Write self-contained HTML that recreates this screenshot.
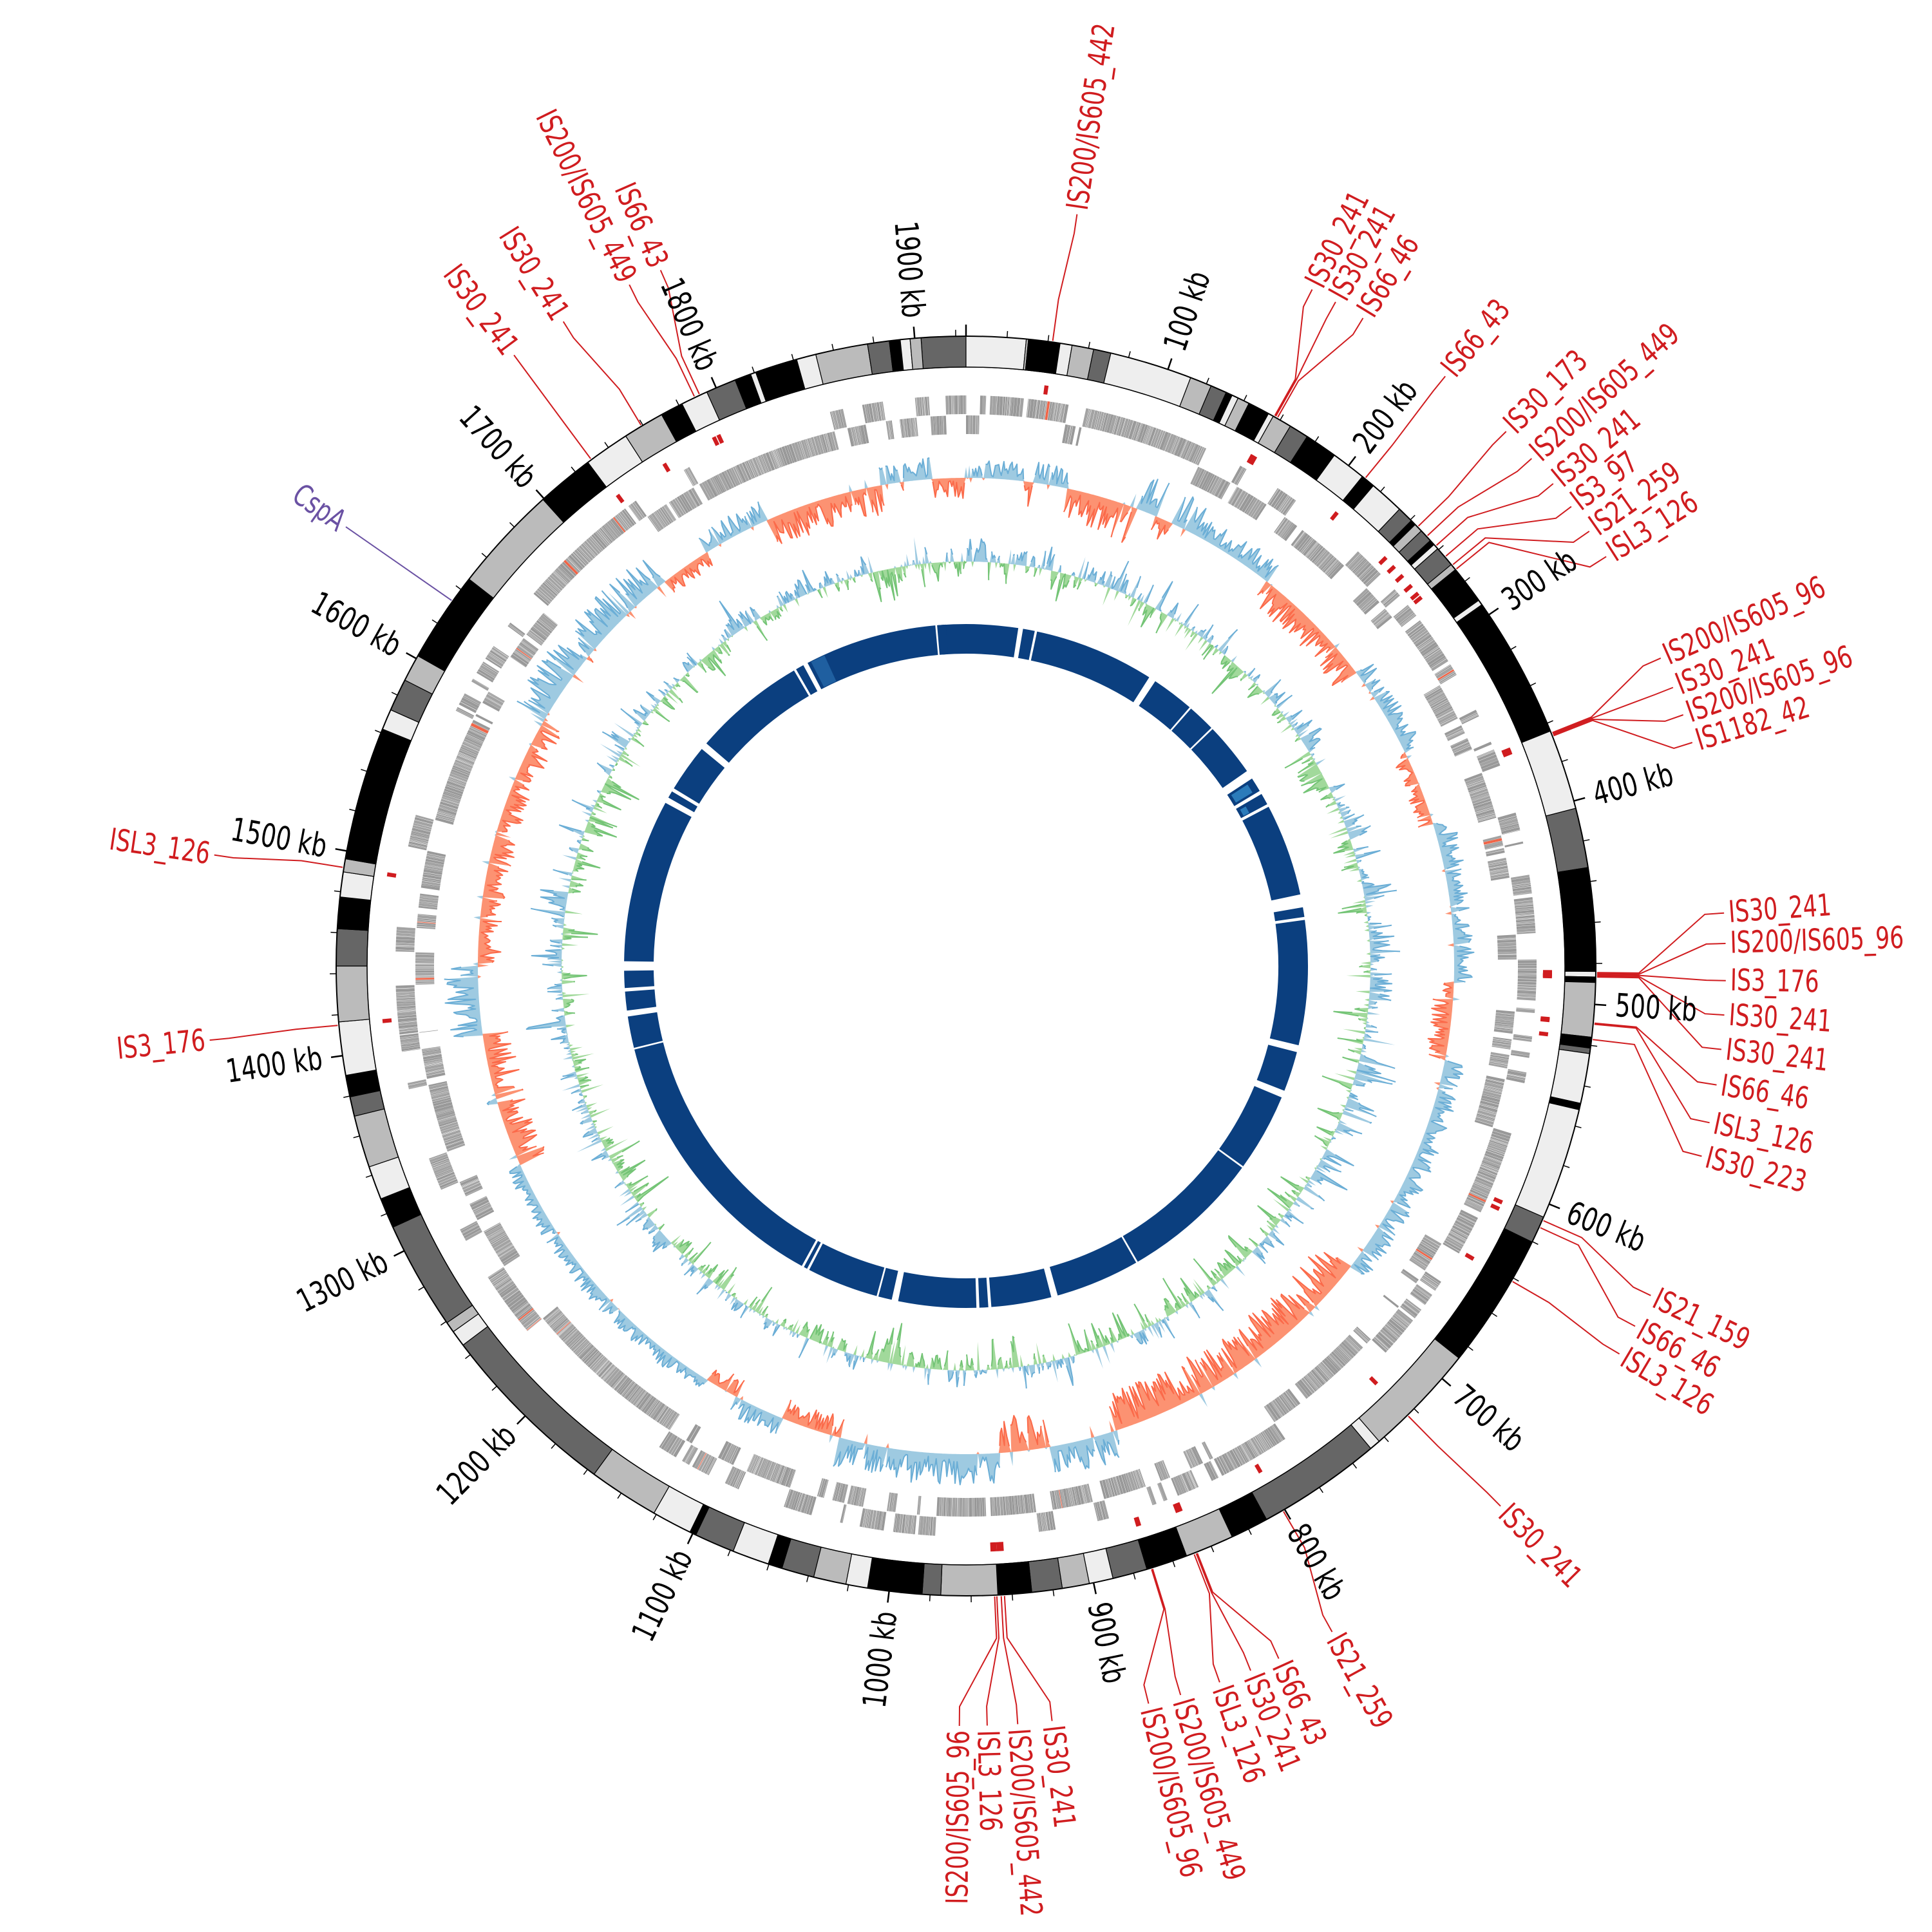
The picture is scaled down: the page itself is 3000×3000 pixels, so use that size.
<!DOCTYPE html>
<html><head><meta charset="utf-8"><style>
html,body{margin:0;padding:0;background:#fff}
svg{display:block}
.l{font-family:"Liberation Sans Narrow","DejaVu Sans Condensed","Liberation Sans",sans-serif;font-size:47px;fill:#d01c1f}
.t{font-family:"Liberation Sans Narrow","DejaVu Sans Condensed","Liberation Sans",sans-serif;font-size:50px;fill:#000}
.p{fill:#6a51a3}
</style></head><body>
<svg id="s" width="3000" height="3000" viewBox="0 0 3000 3000" xmlns="http://www.w3.org/2000/svg">
<g id="g"></g>
<g id="txt">
<text class="t" transform="translate(1500 1500) rotate(-71.3)" x="1010" y="16">100 kb</text>
<text class="t" transform="translate(1500 1500) rotate(-52.6)" x="1010" y="16">200 kb</text>
<text class="t" transform="translate(1500 1500) rotate(-33.9)" x="1010" y="16">300 kb</text>
<text class="t" transform="translate(1500 1500) rotate(-15.19)" x="1010" y="16">400 kb</text>
<text class="t" transform="translate(1500 1500) rotate(3.51)" x="1010" y="16">500 kb</text>
<text class="t" transform="translate(1500 1500) rotate(22.21)" x="1010" y="16">600 kb</text>
<text class="t" transform="translate(1500 1500) rotate(40.91)" x="1010" y="16">700 kb</text>
<text class="t" transform="translate(1500 1500) rotate(59.61)" x="1010" y="16">800 kb</text>
<text class="t" transform="translate(1500 1500) rotate(78.31)" x="1010" y="16">900 kb</text>
<text class="t" transform="translate(1500 1500) rotate(277.01)" x="-1010" y="16" text-anchor="end">1000 kb</text>
<text class="t" transform="translate(1500 1500) rotate(295.71)" x="-1010" y="16" text-anchor="end">1100 kb</text>
<text class="t" transform="translate(1500 1500) rotate(314.42)" x="-1010" y="16" text-anchor="end">1200 kb</text>
<text class="t" transform="translate(1500 1500) rotate(333.12)" x="-1010" y="16" text-anchor="end">1300 kb</text>
<text class="t" transform="translate(1500 1500) rotate(351.82)" x="-1010" y="16" text-anchor="end">1400 kb</text>
<text class="t" transform="translate(1500 1500) rotate(370.52)" x="-1010" y="16" text-anchor="end">1500 kb</text>
<text class="t" transform="translate(1500 1500) rotate(389.22)" x="-1010" y="16" text-anchor="end">1600 kb</text>
<text class="t" transform="translate(1500 1500) rotate(407.92)" x="-1010" y="16" text-anchor="end">1700 kb</text>
<text class="t" transform="translate(1500 1500) rotate(426.62)" x="-1010" y="16" text-anchor="end">1800 kb</text>
<text class="t" transform="translate(1500 1500) rotate(445.32)" x="-1010" y="16" text-anchor="end">1900 kb</text>

<text class="l" transform="translate(1500 1500) rotate(-81.6)" x="1187" y="15">IS200/IS605_442</text>
<text class="l" transform="translate(1500 1500) rotate(-62.9)" x="1187" y="15">IS30_241</text>
<text class="l" transform="translate(1500 1500) rotate(-60.9)" x="1187" y="15">IS30_241</text>
<text class="l" transform="translate(1500 1500) rotate(-58.5)" x="1187" y="15">IS66_46</text>
<text class="l" transform="translate(1500 1500) rotate(-50.9)" x="1187" y="15">IS66_43</text>
<text class="l" transform="translate(1500 1500) rotate(-44.7)" x="1187" y="15">IS30_173</text>
<text class="l" transform="translate(1500 1500) rotate(-41.9)" x="1187" y="15">IS200/IS605_449</text>
<text class="l" transform="translate(1500 1500) rotate(-39.4)" x="1187" y="15">IS30_241</text>
<text class="l" transform="translate(1500 1500) rotate(-37.2)" x="1187" y="15">IS3_97</text>
<text class="l" transform="translate(1500 1500) rotate(-34.9)" x="1187" y="15">IS21_259</text>
<text class="l" transform="translate(1500 1500) rotate(-32.6)" x="1187" y="15">ISL3_126</text>
<text class="l" transform="translate(1500 1500) rotate(-23.9)" x="1187" y="15">IS200/IS605_96</text>
<text class="l" transform="translate(1500 1500) rotate(-21.5)" x="1187" y="15">IS30_241</text>
<text class="l" transform="translate(1500 1500) rotate(-19.3)" x="1187" y="15">IS200/IS605_96</text>
<text class="l" transform="translate(1500 1500) rotate(-17.1)" x="1187" y="15">IS1182_42</text>
<text class="l" transform="translate(1500 1500) rotate(-4)" x="1187" y="15">IS30_241</text>
<text class="l" transform="translate(1500 1500) rotate(-1.7)" x="1187" y="15">IS200/IS605_96</text>
<text class="l" transform="translate(1500 1500) rotate(1.1)" x="1187" y="15">IS3_176</text>
<text class="l" transform="translate(1500 1500) rotate(3.7)" x="1187" y="15">IS30_241</text>
<text class="l" transform="translate(1500 1500) rotate(6.3)" x="1187" y="15">IS30_241</text>
<text class="l" transform="translate(1500 1500) rotate(9)" x="1187" y="15">IS66_46</text>
<text class="l" transform="translate(1500 1500) rotate(11.9)" x="1187" y="15">ISL3_126</text>
<text class="l" transform="translate(1500 1500) rotate(14.5)" x="1187" y="15">IS30_223</text>
<text class="l" transform="translate(1500 1500) rotate(25.7)" x="1187" y="15">IS21_159</text>
<text class="l" transform="translate(1500 1500) rotate(28.3)" x="1187" y="15">IS66_46</text>
<text class="l" transform="translate(1500 1500) rotate(30.7)" x="1187" y="15">ISL3_126</text>
<text class="l" transform="translate(1500 1500) rotate(45.3)" x="1187" y="15">IS30_241</text>
<text class="l" transform="translate(1500 1500) rotate(61.2)" x="1187" y="15">IS21_259</text>
<text class="l" transform="translate(1500 1500) rotate(65.7)" x="1187" y="15">IS66_43</text>
<text class="l" transform="translate(1500 1500) rotate(68)" x="1187" y="15">IS30_241</text>
<text class="l" transform="translate(1500 1500) rotate(70.5)" x="1187" y="15">ISL3_126</text>
<text class="l" transform="translate(1500 1500) rotate(73.6)" x="1187" y="15">IS200/IS605_449</text>
<text class="l" transform="translate(1500 1500) rotate(76.1)" x="1187" y="15">IS200/IS605_96</text>
<text class="l" transform="translate(1500 1500) rotate(83.5)" x="1187" y="15">IS30_241</text>
<text class="l" transform="translate(1500 1500) rotate(86.1)" x="1187" y="15">IS200/IS605_442</text>
<text class="l" transform="translate(1500 1500) rotate(88.4)" x="1187" y="15">ISL3_126</text>
<text class="l" transform="translate(1500 1500) rotate(270.5)" x="-1187" y="15" text-anchor="end">IS200/IS605_96</text>
<text class="l" transform="translate(1500 1500) rotate(354.4)" x="-1187" y="15" text-anchor="end">IS3_176</text>
<text class="l" transform="translate(1500 1500) rotate(368.4)" x="-1187" y="15" text-anchor="end">ISL3_126</text>
<text class="l p" transform="translate(1500 1500) rotate(395.3)" x="-1187" y="15" text-anchor="end">CspA</text>
<text class="l" transform="translate(1500 1500) rotate(413.5)" x="-1187" y="15" text-anchor="end">IS30_241</text>
<text class="l" transform="translate(1500 1500) rotate(418)" x="-1187" y="15" text-anchor="end">IS30_241</text>
<text class="l" transform="translate(1500 1500) rotate(423.7)" x="-1187" y="15" text-anchor="end">IS200/IS605_449</text>
<text class="l" transform="translate(1500 1500) rotate(426.3)" x="-1187" y="15" text-anchor="end">IS66_43</text>
</g>
</svg>
<script>
(function(){
// condense labels along reading direction
var SX=0.82;
Array.prototype.forEach.call(document.querySelectorAll('#txt text'),function(t){
var x=parseFloat(t.getAttribute('x'));t.setAttribute('x',(x/SX).toFixed(1));
t.setAttribute('transform',t.getAttribute('transform')+' scale('+SX+' 1)');});
function rng(seed){return function(){seed|=0;seed=seed+0x6D2B79F5|0;var t=Math.imul(seed^seed>>>15,1|seed);t=t+Math.imul(t^t>>>7,61|t)^t;return((t^t>>>14)>>>0)/4294967296;}}
var R=rng(12345);
function P(r,a){a=a*Math.PI/180;return (1500+r*Math.sin(a)).toFixed(1)+','+(1500-r*Math.cos(a)).toFixed(1);}
function sec(r1,r2,a1,a2,f,ex){var lg=(a2-a1)>180?1:0;return '<path d="M'+P(r2,a1)+'A'+r2+','+r2+' 0 '+lg+' 1 '+P(r2,a2)+'L'+P(r1,a2)+'A'+r1+','+r1+' 0 '+lg+' 0 '+P(r1,a1)+'Z" fill="'+f+'" '+(ex||'')+'/>';}
var h='';
var K='#000',D='#666',B='#bbb',E='#eee';
var bands=[[-4.1,0,D],[0,5.5,E],[5.5,5.7,B],[5.7,8.6,K],[8.6,9.7,E],[9.7,11.7,B],[11.7,13.3,D],[13.3,20.9,E],[20.9,22.9,B],[22.9,24.4,D],[24.4,25,K],[25,25.6,E],[25.6,26.7,B],[26.7,28.7,K],[28.7,29.2,E],[29.2,31,B],[31,32.8,D],[32.8,35.8,K],[35.8,39,E],[39,40.3,K],[40.3,43.5,E],[43.5,45,D],[45,45.5,K],[45.5,46.3,B],[46.3,47.5,D],[47.5,48,K],[48,48.5,E],[48.5,50.4,D],[50.4,51,B],[51,54.5,K],[54.5,55,E],[55,68.1,K],[68.1,75.5,E],[75.5,81,D],[81,90.5,K],[90.5,91,E],[91,91.5,K],[91.5,96.5,B],[96.5,97.5,K],[97.5,98,D],[98,102.6,E],[102.6,103.2,K],[103.2,113.5,E],[113.5,116,D],[116,128.5,K],[128.5,139,B],[139,140,E],[140,151.5,D],[151.5,155,K],[155,159.5,B],[159.5,163.3,K],[163.3,166.5,D],[166.5,168.7,E],[168.7,171.2,B],[171.2,174,D],[174,177.1,K],[177.1,182.3,B],[182.3,184,D],[184,189,K],[189,191,E],[191,194,B],[194,197,D],[197,198.3,K],[198.3,201.7,E],[201.7,205.4,D],[205.4,206,K],[206,209.7,E],[209.7,216.2,B],[216.2,233,D],[233,234.5,E],[234.5,235.5,B],[235.5,245.5,D],[245.5,248.3,K],[248.3,251.4,E],[251.4,256.2,B],[256.2,258,D],[258,260,K],[260,264.9,E],[264.9,270,B],[270,273.4,D],[273.4,276.3,K],[276.3,278.6,E],[278.6,279.8,B],[279.8,292.1,K],[292.1,294,E],[294,297,D],[297,299.5,B],[299.5,307.9,K],[307.9,317.8,B],[317.8,323.1,K],[323.1,327.3,E],[327.3,331.1,B],[331.1,333.2,K],[333.2,335.7,E],[335.7,338.5,D],[338.5,340,K],[340,340.5,E],[340.5,344.4,K],[344.4,346.2,E],[346.2,351,B],[351,353,D],[353,354,K],[354,354.9,E],[354.9,355.9,B]];
bands.forEach(function(b){h+=sec(930,978,b[0],b[1],b[2],'stroke="#000" stroke-width="1.2"');});
h+='<circle cx="1500" cy="1500" r="978" fill="none" stroke="#000" stroke-width="2"/><circle cx="1500" cy="1500" r="930" fill="none" stroke="#000" stroke-width="1.5"/>';
for(var kb=0;kb<1925;kb+=20){var a=kb*360/1925;var maj=kb%100==0;var p1=P(978,a).split(','),p2=P(maj?996:988,a).split(',');h+='<line x1="'+p1[0]+'" y1="'+p1[1]+'" x2="'+p2[0]+'" y2="'+p2[1]+'" stroke="#000" stroke-width="'+(maj?2.5:1.5)+'"/>';}
var a=0,row=0;
while(a<360){var len=0.04+R()*0.28;if(R()<0.06)row=1-row;var r1=row?857:826,r2=row?886:855;var col=R()<0.01?'#ef6548':(R()<0.5?'#a3a3a3':'#999');h+=sec(r1,r2,a,a+len,col);a+=len+0.012+R()*0.025;if(R()<0.02)a+=0.3+R()*0.6;}
var reg=[[0,7,1],[7,8,-1],[8,12,1],[12,20.5,-1],[20.5,23,1],[23,25,-1],[25,28,1],[28,38,1],[38,53,-1],[53,64,1],[64,73,-1],[73,92,1],[92,101,-1],[101,128,1],[128,162,-1],[162,170,1],[170,176,-1],[176,195,1],[195,202,-1],[202,208,1],[208,212,-1],[212,246,1],[246,262,-1],[262,270,1],[270,300,-1],[300,322,1],[322,328,-1],[328,336,1],[336,350,-1],[350,356,1],[356,360,-1]];
reg.forEach(function(r){r.push(0.35+R()*0.65);});
function area(base,vals,sgn,fill,stroke){var N=vals.length,pts=[],bl=[];for(var i=0;i<=N;i++){var ang=i*360/N;var v=vals[i%N];v=sgn>0?Math.max(v,0):Math.min(v,0);pts.push(P(base+v,ang));bl.push(P(base,ang));}bl.reverse();
var s='<path d="M'+pts.join('L')+'L'+bl.join('L')+'Z" fill="'+fill+'" stroke="none"/>';
var seg=[];for(var i=0;i<=N;i++){var v=vals[i%N];var on=sgn>0?v>0:v<0;var ang=i*360/N;if(on){seg.push(P(base+v,ang));}else{if(seg.length>1)s+='<polyline points="'+seg.join(' ')+'" fill="none" stroke="'+stroke+'" stroke-width="2" stroke-linejoin="round"/>';seg=[];}}
if(seg.length>1)s+='<polyline points="'+seg.join(' ')+'" fill="none" stroke="'+stroke+'" stroke-width="2"/>';
return s;}
var N=1925,sk=[];
for(var i=0;i<N;i++){var ang=i*360/N,s=1,am=0.6;for(var j=0;j<reg.length;j++){if(ang>=reg[j][0]&&ang<reg[j][1]){s=reg[j][2];am=reg[j][3];break;}}
var v=s*am*(0.1+0.9*Math.pow(R(),1.2))*62;if(R()<0.04)v=-v*0.4;sk.push(v);}
h+=area(758,sk,1,'#9ecae1','#6baed6');h+=area(758,sk,-1,'#fc9272','#fb6a4a');
var gc=[],w=0;
for(var i=0;i<N;i++){w=0.9*w+0.1*(R()*2-1);var v=w*70+(R()*2-1)*(R()<0.25?45:15);v=Math.max(-70,Math.min(70,v));gc.push(v);}
h+=area(628,gc,1,'#9ecae1','#6baed6');h+=area(628,gc,-1,'#a1d99b','#74c476');
var gaps=[[-4.5,0.4],[9.2,0.8],[11.8,0.4],[33,1.2],[41,0.3],[46,0.3],[56,1.5],[59.5,0.6],[62,0.5],[79,2.2],[82,0.5],[104,1.2],[112,1.2],[126,0.3],[150,0.3],[165,1.1],[176,0.5],[178,0.5],[192,1.1],[195,0.3],[207.5,0.4],[208.5,0.4],[256,0.3],[262,1],[266,0.6],[270,1.6],[299,1],[301,0.6],[310,1.2],[330,0.4],[332,0.8],[355,0.3],[356.5,0.3]];
var st=-4.5+0.2;
for(var g=1;g<gaps.length;g++){var e=gaps[g][0]-gaps[g][1]/2;h+=sec(485,531,st,e,'#0b3f7f');st=gaps[g][0]+gaps[g][1]/2;}
h+=sec(485,531,st,355.31,'#0b3f7f');
h+=sec(490,520,57.2,58.8,'#2b7bba');h+=sec(490,500,60.3,61.6,'#2b7bba');h+=sec(486,530,333,335.5,'#1f5fa0');
var L=[[7.9,8.4],[29.3,27.1],[29.4,29.1],[29.6,31.5],[39.3,39.1],[45.8,45.3],[47,48.1],[48.2,50.6],[49.5,52.8],[50.5,55.1],[51,57.4],[68.3,66.1],[68.4,68.5],[68.5,70.7],[68.6,72.9],[90.6,86],[90.7,88.3],[90.8,91.1],[90.9,93.7],[91,96.3],[95.2,99],[95.3,101.9],[96.7,104.5],[113.8,115.7],[114.5,118.3],[120,120.7],[135.5,135.3],[149.8,151.2],[158.5,155.7],[158.6,158],[158.8,160.5],[162.8,163.6],[162.9,166.1],[176.5,173.5],[176.8,176.1],[177.2,178.4],[177.4,180.5],[264.6,264.4],[279,278.4],[323.5,323.5],[329,328],[334.5,333.7],[335,336.3]];
L.forEach(function(l){var f=l[0],t=l[1];h+='<polyline points="'+P(980,f)+' '+P(1045,f)+' '+P(1150,t)+' '+P(1180,t)+'" fill="none" stroke="#d01c1f" stroke-width="2"/>';h+=sec(896,910,f-0.2,f+0.2,'#d01c1f');});
h+='<polyline points="'+P(980,305.4)+' '+P(1180,305.3)+'" fill="none" stroke="#6a51a3" stroke-width="2"/>';
document.getElementById('g').innerHTML=h;
})();
</script>
</body></html>
